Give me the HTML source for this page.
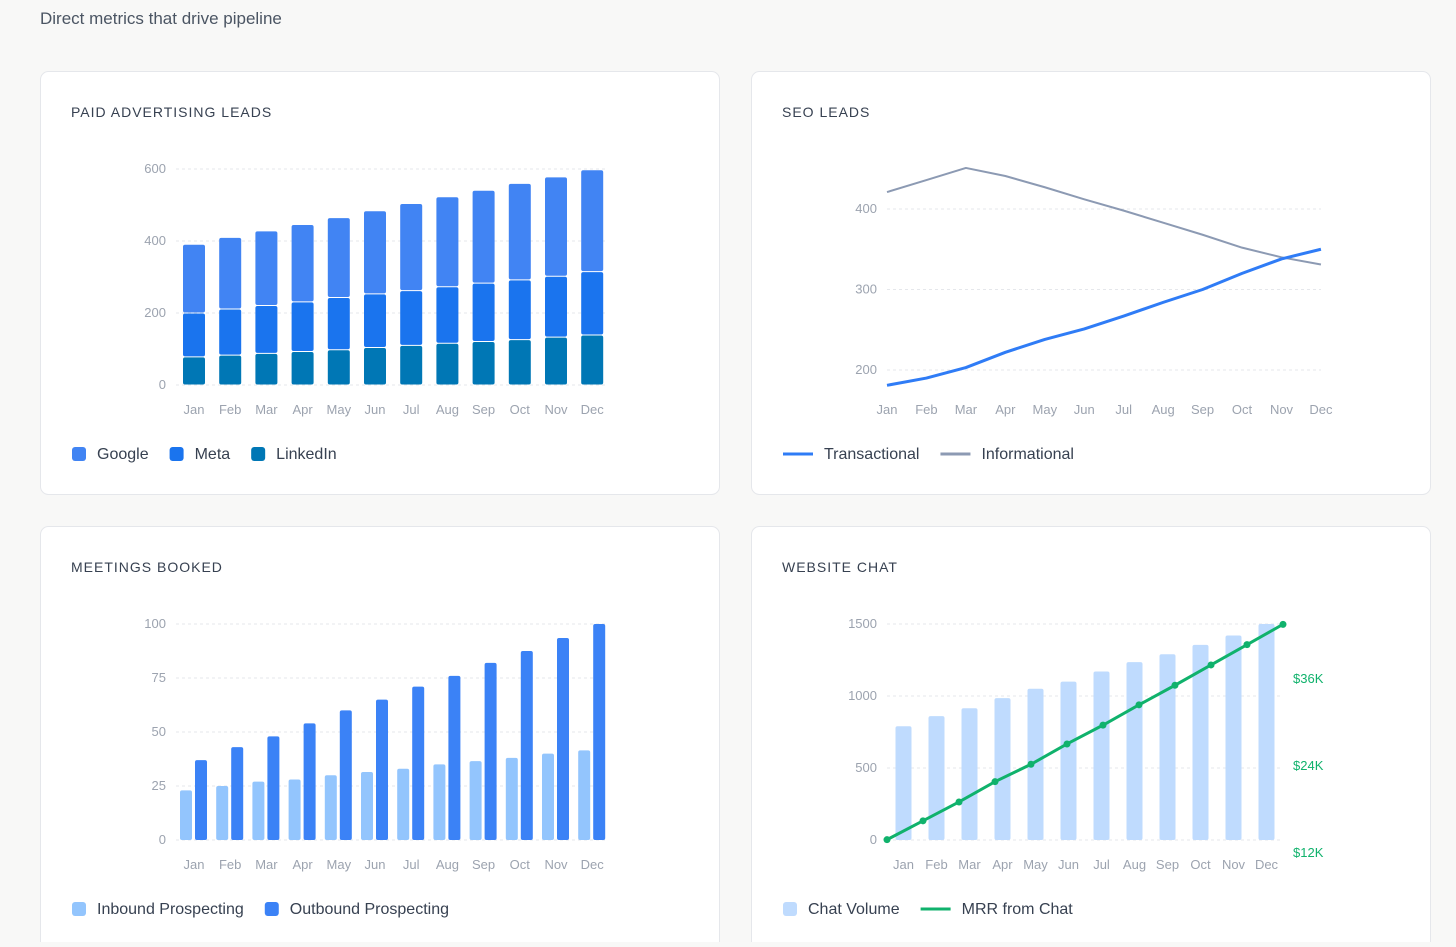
<!DOCTYPE html>
<html><head><meta charset="utf-8"><style>
body{margin:0;background:#f8f8f7;font-family:"Liberation Sans",sans-serif;}
svg text{font-family:"Liberation Sans",sans-serif;}
</style></head><body>
<svg id="s" width="1456" height="942" xmlns="http://www.w3.org/2000/svg">
<text x="40" y="24" font-size="17" fill="#4b5563">Direct metrics that drive pipeline</text>
<rect x="40.5" y="71.5" width="679" height="423" rx="8" fill="#fff" stroke="#e5e7eb"/>
<rect x="751.5" y="71.5" width="679" height="423" rx="8" fill="#fff" stroke="#e5e7eb"/>
<rect x="40.5" y="526.5" width="679" height="430" rx="8" fill="#fff" stroke="#e5e7eb"/>
<rect x="751.5" y="526.5" width="679" height="430" rx="8" fill="#fff" stroke="#e5e7eb"/>
<text x="71" y="117" font-size="14" letter-spacing="1" fill="#374151">PAID ADVERTISING LEADS</text>
<text x="782" y="117" font-size="14" letter-spacing="1" fill="#374151">SEO LEADS</text>
<text x="71" y="572" font-size="14" letter-spacing="1" fill="#374151">MEETINGS BOOKED</text>
<text x="782" y="572" font-size="14" letter-spacing="1" fill="#374151">WEBSITE CHAT</text>
<g id="g"></g>
</svg>
<script>
const months=["Jan","Feb","Mar","Apr","May","Jun","Jul","Aug","Sep","Oct","Nov","Dec"];
const linkedin=[78,83,88,93,98,104,110,116,121,126,133,139];
const meta=[122,128,133,138,145,149,152,157,162,166,169,176];
const google=[191,199,207,215,222,231,242,250,258,268,276,283];
const paidTicks=[0,200,400,600];
const transactional=[181,190,203,222,238,251,267,284,300,320,338,350];
const informational=[421,436,451,441,427,412,398,383,368,352,340,331];
const seoTicks=[200,300,400];
const inbound=[23,25,27,28,30,31.5,33,35,36.5,38,40,41.5];
const outbound=[37,43,48,54,60,65,71,76,82,87.5,93.5,100];
const meetTicks=[0,25,50,75,100];
const chatVolume=[790,860,915,985,1050,1100,1170,1235,1290,1355,1420,1500];
const mrr=[13.7,16.3,18.9,21.7,24.1,26.9,29.5,32.3,35.0,37.8,40.6,43.4];
const chatTicks=[0,500,1000,1500];
const mrrTicks=[12,24,36];
const mrrTickLabels=["$12K","$24K","$36K"];

const NS="http://www.w3.org/2000/svg",G=document.getElementById('g');
function el(t,a,txt){const e=document.createElementNS(NS,t);for(const k in a)e.setAttribute(k,a[k]);if(txt!==undefined)e.textContent=txt;G.appendChild(e);return e;}
function lin(d0,d1,r0,r1){return v=>r0+(v-d0)*(r1-r0)/(d1-d0);}
function yGrid(ticks,y,x0,x1,lx,name){ticks.forEach(t=>{
 const l=el('line',{x1:x0,x2:x1,y1:y(t),y2:y(t),stroke:'#e5e7eb','stroke-dasharray':'3 3'});
 
 const tx=el('text',{x:lx,y:y(t)+4,'font-size':13,fill:'#9ca3af','text-anchor':'end'},t);
 });}
function xLabels(xs,y,name){months.forEach((m,i)=>{const t=el('text',{x:xs(i),y:y,'font-size':13,fill:'#9ca3af','text-anchor':'middle'},m);
 });}
function legend(items,x,y,name){let cx=x;items.forEach(it=>{
 let m;if(it.line){m=el('line',{x1:cx,x2:cx+30,y1:y,y2:y,stroke:it.c,'stroke-width':3});cx+=41;}
 else{m=el('rect',{x:cx,y:y-7,width:14,height:14,rx:3,fill:it.c});cx+=25;}
 
 const t=el('text',{x:cx,y:y+5,'font-size':16,fill:'#374151'},it.n);
 
 cx+=t.getComputedTextLength()+21;});}

// Paid ads
{const y=lin(0,600,385,169),xs=i=>194+i*36.2;
 yGrid(paidTicks,y,176,608,166,'paid');
 months.forEach((m,i)=>{let b=0;[[linkedin,'#0077b5','linkedin'],[meta,'#1a74ee','meta'],[google,'#4184f3','google']].forEach(([arr,c,n])=>{
  const v=arr[i];const r=el('rect',{x:xs(i)-11,y:y(b+v)+0.5,width:22,height:y(b)-y(b+v)-1,rx:2,fill:c});
  b+=v;});});
 xLabels(xs,414,'paid');
 legend([{n:'Google',c:'#4184f3'},{n:'Meta',c:'#1a74ee'},{n:'LinkedIn',c:'#0077b5'}],72,454,'paid');}

// SEO
{const y=lin(200,400,370,209),xs=i=>887+i*39.45;
 yGrid(seoTicks,y,887,1321,877,'seo');
 [[informational,'#8c9ab3','informational',2],[transactional,'#2f7cf6','transactional',3]].forEach(([arr,c,n,w])=>{
  const p=el('polyline',{points:arr.map((v,i)=>xs(i)+','+y(v)).join(' '),fill:'none',stroke:c,'stroke-width':w,'stroke-linejoin':'round'});
  });
 xLabels(xs,414,'seo');
 legend([{n:'Transactional',c:'#2f7cf6',line:1},{n:'Informational',c:'#8c9ab3',line:1}],783,454,'seo');}

// Meetings
{const y=lin(0,100,840,624),xs=i=>194+i*36.2;
 yGrid(meetTicks,y,176,608,166,'meetings');
 months.forEach((m,i)=>{
  let r=el('rect',{x:xs(i)-14,y:y(inbound[i]),width:12,height:y(0)-y(inbound[i]),rx:2,fill:'#93c5fd'});
  
  r=el('rect',{x:xs(i)+1,y:y(outbound[i]),width:12,height:y(0)-y(outbound[i]),rx:2,fill:'#3b82f6'});
  });
 xLabels(xs,869,'meetings');
 legend([{n:'Inbound Prospecting',c:'#93c5fd'},{n:'Outbound Prospecting',c:'#3b82f6'}],72,909,'meetings');}

// Chat
{const y=lin(0,1500,840,624),y2=lin(12,36,852,678),xb=i=>903.5+i*33,xl=i=>887+i*36;
 yGrid(chatTicks,y,887,1283,877,'chat');
 months.forEach((m,i)=>{const r=el('rect',{x:xb(i)-8,y:y(chatVolume[i]),width:16,height:y(0)-y(chatVolume[i]),rx:2,fill:'#bfdbfe'});
  });
 const p=el('polyline',{points:mrr.map((v,i)=>xl(i)+','+y2(v)).join(' '),fill:'none',stroke:'#10b26c','stroke-width':3});
 
 mrr.forEach((v,i)=>{const c=el('circle',{cx:xl(i),cy:y2(v),r:3.5,fill:'#10b26c'});
  });
 mrrTicks.forEach((t,i)=>{const tx=el('text',{x:1293,y:y2(t)+5,'font-size':13,fill:'#10b26c'},mrrTickLabels[i]);
  });
 xLabels(xb,869,'chat');
 legend([{n:'Chat Volume',c:'#bfdbfe'},{n:'MRR from Chat',c:'#10b26c',line:1}],783,909,'chat');}
</script>
</body></html>
